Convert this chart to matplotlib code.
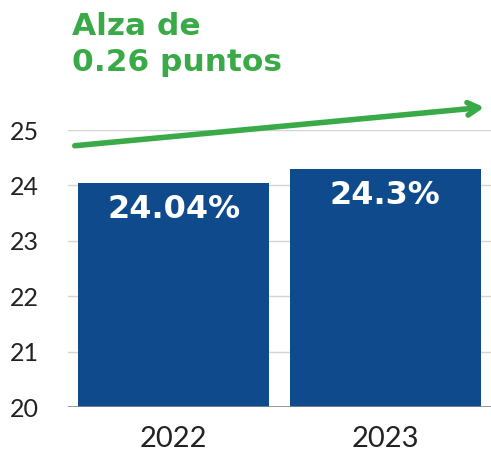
import matplotlib
matplotlib.use("Agg")
import matplotlib.pyplot as plt

categories = ["2022", "2023"]
values = [24.04, 24.3]
value_labels = ["24.04%", "24.3%"]
yticks = [20, 21, 22, 23, 24, 25]
title = "Alza de\n0.26 puntos"

W, H = 491, 461
fig = plt.figure(figsize=(W / 100, H / 100), dpi=100)
ax = fig.add_axes([68 / W, (H - 407) / H, (491 - 68) / W, (407 - 130) / H])

bar_color = "#0e4a8c"
green = "#3aaa48"

x = list(range(len(categories)))
ax.bar(x, [v - 20 for v in values], bottom=20, width=0.905, color=bar_color, zorder=3)
ax.set_xlim(-0.5, 1.5)
ax.set_ylim(20, 25)
ax.set_yticks(yticks)
ax.set_yticklabels([str(t) for t in yticks], fontsize=18, color="#222222", family="Lato")
ax.set_xticks(x)
ax.set_xticklabels(categories, fontsize=21, color="#222222", family="Lato")
ax.tick_params(axis="y", length=0, pad=21)
ax.tick_params(axis="x", length=0, pad=14)
for s in ax.spines.values():
    s.set_visible(False)
ax.grid(axis="y", color="#d4d4d4", lw=1, zorder=0)
ax.axhline(20, color="#888888", lw=1.2, zorder=4)

for xi, v, lab in zip(x, values, value_labels):
    ax.annotate(lab, (xi, v), xytext=(0, -8), textcoords="offset points",
                ha="center", va="top", color="white", fontsize=23,
                fontweight="bold", family="DejaVu Sans", zorder=5)

fig.text(72 / W, 1 - 12 / H, title, color=green, fontsize=22.5, fontweight="bold",
         family="DejaVu Sans", ha="left", va="top", linespacing=1.3)

ax.annotate("", xy=(487 / W, 1 - 107 / H), xytext=(72 / W, 1 - 146 / H),
            xycoords="figure fraction", textcoords="figure fraction",
            arrowprops=dict(arrowstyle="->,head_length=0.8,head_width=0.45",
                            color=green, lw=4))

fig.savefig("out.png", dpi=100)
